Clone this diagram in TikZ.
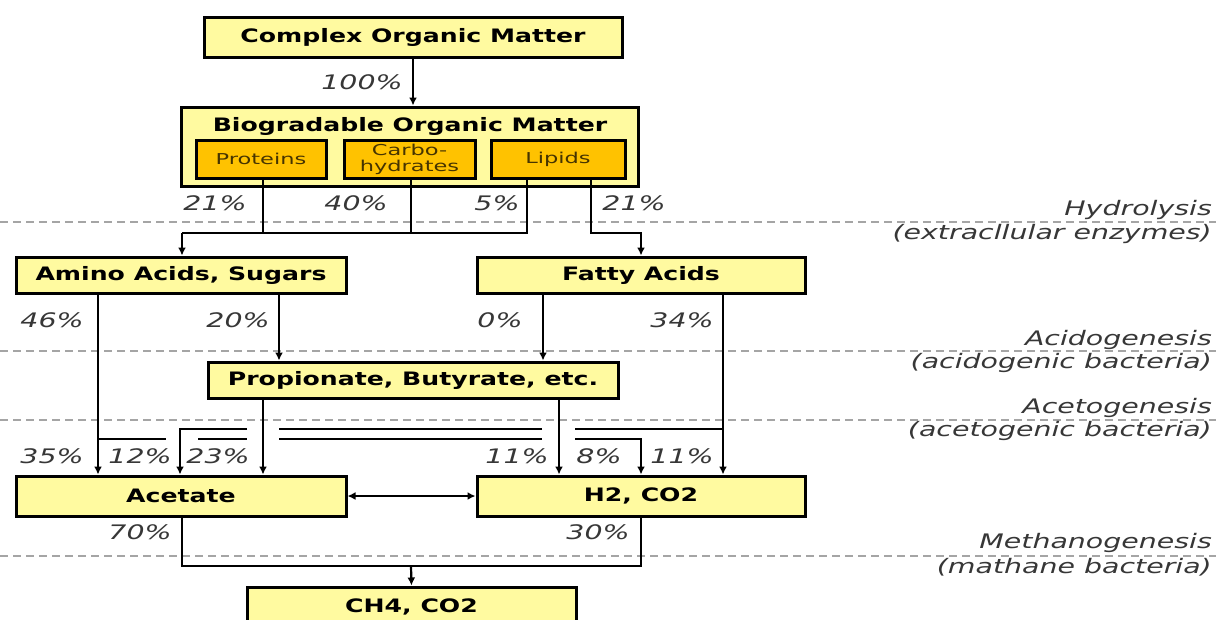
\documentclass[tikz,border=0pt]{standalone}
\usepackage{fontspec}
\setmainfont{DejaVu Sans}
\newfontfamily\boxfont{DejaVu Sans}[FakeStretch=1.36]
\newfontfamily\innerfont{DejaVu Sans}[FakeStretch=1.5]
\newfontfamily\pctfont{DejaVu Sans}[FakeStretch=1.42]
\usetikzlibrary{arrows.meta}
\definecolor{boxyellow}{RGB}{255,250,160}
\definecolor{boxorange}{RGB}{255,194,0}
\definecolor{innertext}{RGB}{70,52,0}
\definecolor{pctgray}{RGB}{55,55,55}
\definecolor{phasegray}{RGB}{165,165,165}
\begin{document}
\begin{tikzpicture}[x=1pt,y=-1pt,
  ybox/.style={draw=black, line width=3pt, fill=boxyellow, inner sep=0pt,
    font=\boxfont\bfseries\fontsize{18.5}{22}\selectfont},
  titletext/.style={inner sep=0pt, font=\boxfont\bfseries\fontsize{18.5}{22}\selectfont},
  obox/.style={draw=black, line width=3pt, fill=boxorange, inner sep=0pt,
    text=innertext, align=center, font=\innerfont\fontsize{15}{16}\selectfont},
  pct/.style={text=pctgray, inner sep=0pt, font=\pctfont\itshape\fontsize{20}{24}\selectfont},
  stage/.style={pct, anchor=east},
  conn/.style={line width=2.2pt},
  arr/.style={conn, -{Latex[length=8pt,width=8pt]}},
  dblarr/.style={conn, {Latex[length=8pt,width=8pt]}-{Latex[length=8pt,width=8pt]}},
  phase/.style={draw=phasegray, line width=1.4pt, dash pattern=on 8pt off 5pt}]
\useasboundingbox (0,0) rectangle (1216,619);
\fill[white] (0,0) rectangle (1216,619);

% phase separators
\draw[phase] (0,222) -- (1216,222);
\draw[phase] (0,351) -- (1216,351);
\draw[phase] (0,420) -- (1216,420);
\draw[phase] (0,556) -- (1216,556);

% stage labels
\node[stage] (s1a) at (1212,210) {Hydrolysis};
\node[stage] (s1b) at (1212,234) {(extracllular enzymes)};
\node[stage] (s2a) at (1212,340) {Acidogenesis};
\node[stage] (s2b) at (1212,363) {(acidogenic bacteria)};
\node[stage] (s3a) at (1212,408) {Acetogenesis};
\node[stage] (s3b) at (1212,431) {(acetogenic bacteria)};
\node[stage] (s4a) at (1212,543) {Methanogenesis};
\node[stage] (s4b) at (1212,567) {(mathane bacteria)};

% boxes
\node[ybox, minimum width=418pt, minimum height=40pt] (com) at (413,37) {Complex Organic Matter};
\node[ybox, minimum width=457pt, minimum height=79pt] (bio) at (409.5,146.5) {};
\node[titletext] (biot) at (410,126) {Biogradable Organic Matter};
\node[obox, minimum width=130pt, minimum height=38pt] (pro) at (261,159) {Proteins};
\node[obox, minimum width=131pt, minimum height=38pt] (car) at (409.5,159) {Carbo-\\hydrates};
\node[obox, minimum width=134pt, minimum height=38pt] (lip) at (558,159) {Lipids};
\node[ybox, minimum width=330pt, minimum height=36pt] (ami) at (181,275) {Amino Acids, Sugars};
\node[ybox, minimum width=328pt, minimum height=36pt] (fat) at (641,275) {Fatty Acids};
\node[ybox, minimum width=410pt, minimum height=36pt] (pbe) at (413,380) {Propionate, Butyrate, etc.};
\node[ybox, minimum width=330pt, minimum height=40pt] (ace) at (181,496) {Acetate};
\node[ybox, minimum width=328pt, minimum height=40pt] (h2) at (641,496) {H2, CO2};
\node[ybox, minimum width=329pt, minimum height=40pt] (ch4) at (411.5,607) {CH4, CO2};

% percentages
\node[pct] (p100) at (362,82) {100\%};
\node[pct] (p21a) at (215,203) {21\%};
\node[pct] (p40) at (356,203) {40\%};
\node[pct] (p5) at (497,203) {5\%};
\node[pct] (p21b) at (634,203) {21\%};
\node[pct] (p46) at (52,320) {46\%};
\node[pct] (p20) at (238,320) {20\%};
\node[pct] (p0) at (500,320) {0\%};
\node[pct] (p34) at (682,320) {34\%};
\node[pct] (p35) at (52,456) {35\%};
\node[pct] (p12) at (140,456) {12\%};
\node[pct] (p23) at (218,456) {23\%};
\node[pct] (p11a) at (517,456) {11\%};
\node[pct] (p8) at (599,456) {8\%};
\node[pct] (p11b) at (682,456) {11\%};
\node[pct] (p70) at (140,532) {70\%};
\node[pct] (p30) at (598,532) {30\%};

% connectors: top
\draw[arr] (com.south) -- (com.south |- bio.north);

% hydrolysis
\coordinate (hj) at (182,233);
\draw[conn] (263,0 |- pro.south) -- (263,233);
\draw[conn] (411,0 |- car.south) -- (411,233);
\draw[conn] (527,0 |- lip.south) -- (527,233) -- (hj);
\draw[arr] (hj) -- (182,0 |- ami.north);
\draw[arr] (591,0 |- lip.south) |- (641,233) -- (fat.north);

% acidogenesis
\draw[arr] (98,0 |- ami.south) -- (98,0 |- ace.north);
\draw[arr] (279,0 |- ami.south) -- (279,0 |- pbe.north);
\draw[arr] (543,0 |- fat.south) -- (543,0 |- pbe.north);
\draw[arr] (723,0 |- fat.south) -- (723,0 |- h2.north);

% acetogenesis
\draw[arr] (263,0 |- pbe.south) -- (263,0 |- ace.north);
\draw[arr] (559,0 |- pbe.south) -- (559,0 |- h2.north);
\draw[conn] (98,439) -- (166,439);
\draw[conn] (198,439) -- (247,439);
\draw[conn] (279,439) -- (542,439);
\draw[arr] (575,439) -| (641,0 |- h2.north);
\draw[conn] (723,429) -- (575,429);
\draw[conn] (542,429) -- (279,429);
\draw[arr] (247,429) -| (180,0 |- ace.north);

% acetate <-> H2
\draw[dblarr] (ace.east) -- (h2.west);

% methanogenesis
\coordinate (mj) at (411,566);
\draw[conn] (182,0 |- ace.south) |- (641,566) -- (641,0 |- h2.south);
\draw[arr] (mj) -- (ch4.north);
\end{tikzpicture}
\end{document}
